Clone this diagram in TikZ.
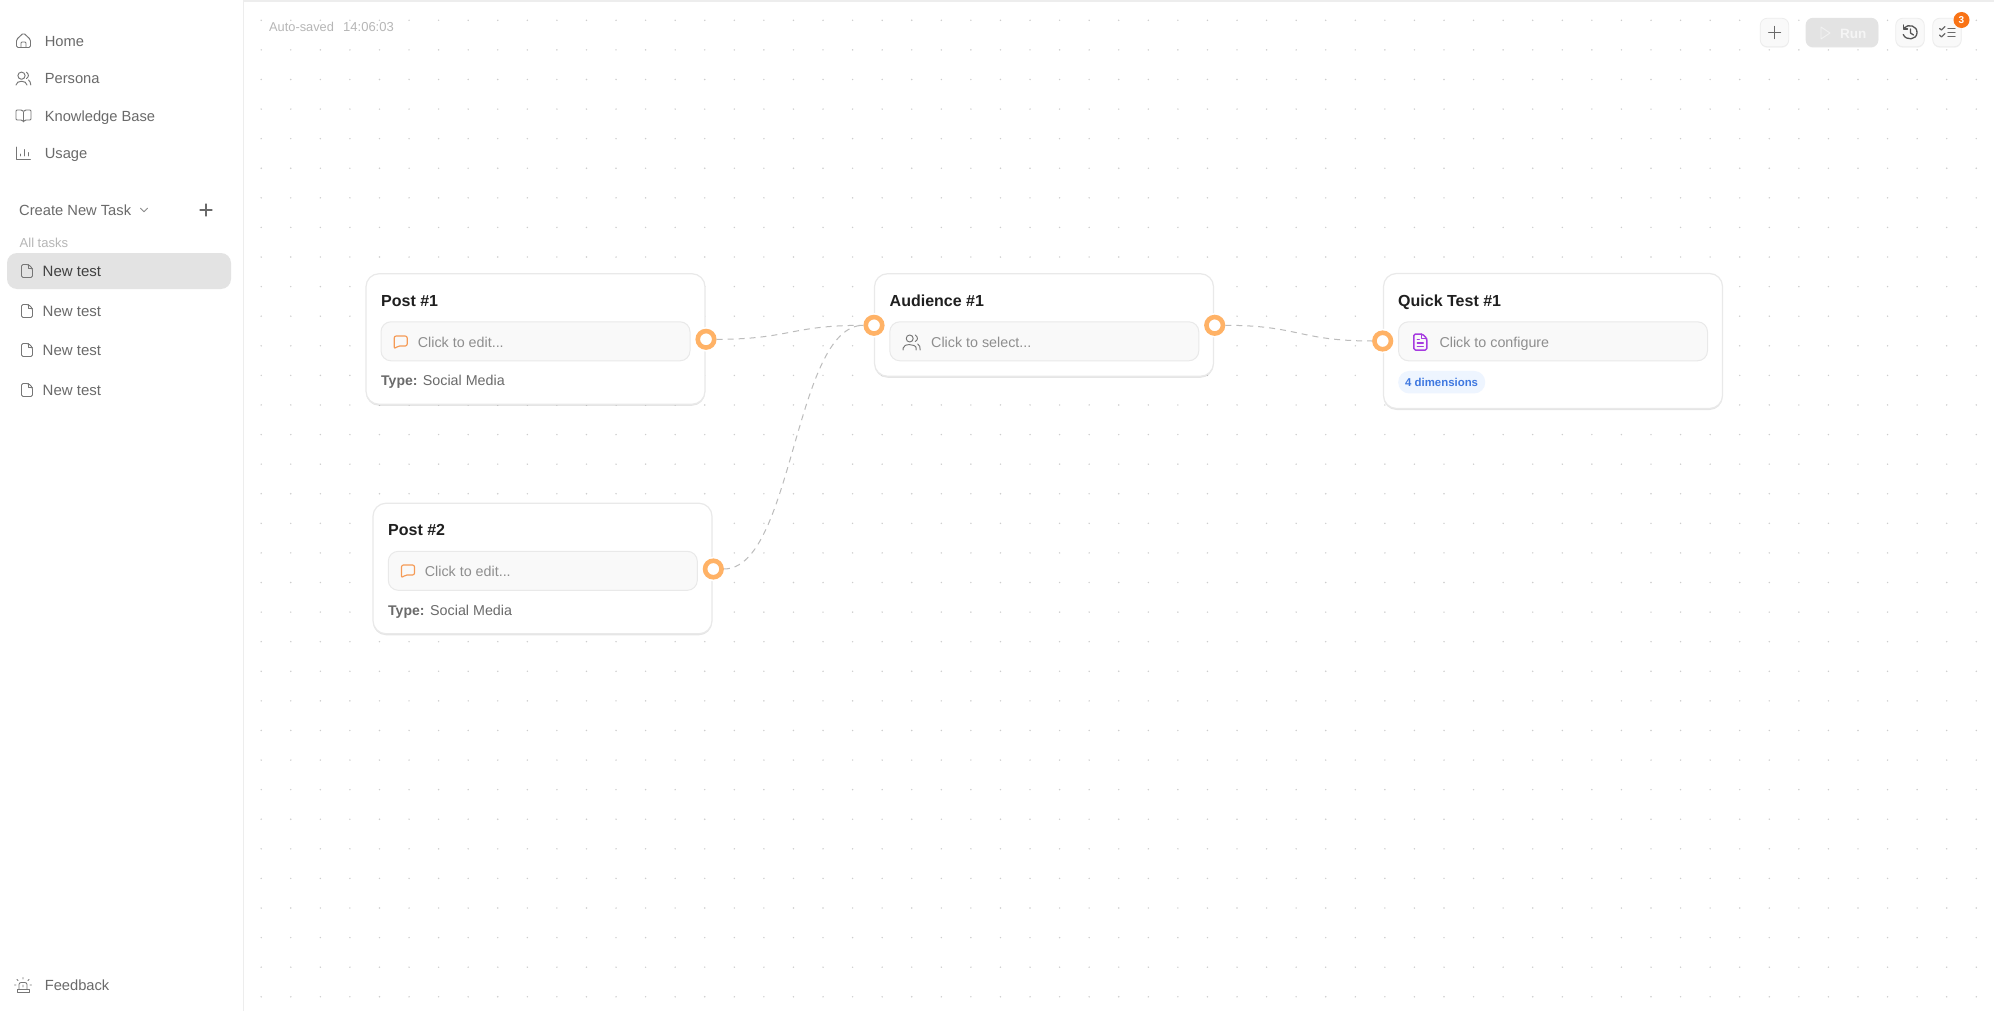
\documentclass[tikz,border=0pt]{standalone}
\usepackage{fontspec}
\setmainfont{Liberation Sans}
\usetikzlibrary{shadows}

\definecolor{gridgray}{HTML}{CDCDCD}
\definecolor{linegray}{HTML}{EDEDED}
\definecolor{wiregray}{HTML}{BCBCBC}
\definecolor{cardline}{HTML}{E9E9E9}
\definecolor{fieldfill}{HTML}{F9F9F9}
\definecolor{selgray}{HTML}{E3E3E3}
\definecolor{textgray}{HTML}{6A6A6A}
\definecolor{icongray}{HTML}{767676}
\definecolor{hintgray}{HTML}{8E8E8E}
\definecolor{palegray}{HTML}{B6B6B6}
\definecolor{darktext}{HTML}{1F1F1F}
\definecolor{portorange}{HTML}{FFB266}
\definecolor{chatorange}{HTML}{F59A55}
\definecolor{badgeorange}{HTML}{F97316}
\definecolor{docpurple}{HTML}{A63BE0}
\definecolor{pillblue}{HTML}{EEF5FF}
\definecolor{pilltext}{HTML}{3F78E0}

\tikzset{
  txt/.style={anchor=west,inner sep=0pt,text height=10.5pt,text depth=0pt},
  side/.style={txt,text=textgray,font=\fontsize{14.7}{17}\selectfont},
  title/.style={txt,text=darktext,text height=11.5pt,font=\fontsize{16}{19}\bfseries\selectfont},
  hint/.style={txt,text=hintgray,font=\fontsize{14.3}{17}\selectfont},
  info/.style={txt,text=textgray,font=\fontsize{14.3}{17}\selectfont},
  card/.style={draw=cardline,line width=1.2pt,fill=white,rounded corners=13pt,
    drop shadow={shadow xshift=0pt,shadow yshift=-1.5pt,opacity=.10,fill=black}},
  field/.style={draw=cardline,line width=1pt,fill=fieldfill,rounded corners=10pt,
    minimum height=39pt,inner sep=0pt},
  port/.style={circle,draw=portorange,line width=4.6pt,fill=white,minimum size=16.5pt,inner sep=0pt,
    preaction={draw=white,line width=8pt}},
  wire/.style={draw=wiregray,line width=1pt,dash pattern=on 6pt off 5pt},
  toolbtn/.style={draw=linegray,line width=.8pt,fill=fieldfill,rounded corners=7pt,
    minimum width=28.5pt,minimum height=28.5pt,inner sep=0pt,
    drop shadow={shadow xshift=0pt,shadow yshift=-1pt,opacity=.05,fill=black}},
  ico/.style={draw=icongray,line width=.95pt,line join=round,line cap=round,fill=none},
  homeicon/.pic={
    \draw[ico,rounded corners=1.5pt] (-7,-1) -- (0,-7.5) -- (7,-1) -- (7,7) -- (-7,7) -- cycle;
    \draw[ico,rounded corners=1pt] (-2.5,7) -- (-2.5,1.5) -- (2.5,1.5) -- (2.5,7);},
  personaicon/.pic={
    \draw[ico] (-2,-2.8) circle (3.6);
    \draw[ico] (-7.5,6.5) .. controls (-7,1.5) and (3,1.5) .. (3.5,6.5);
    \draw[ico] (3,-6.2) .. controls (5.5,-4.5) and (5.5,-1.5) .. (3,0);
    \draw[ico] (5,1.5) .. controls (6.5,2.5) and (7,4) .. (7.3,6.5);},
  bookicon/.pic={
    \draw[ico,rounded corners=1pt] (0,-4) -- (-1.5,-6) -- (-7.5,-6) -- (-7.5,4) -- (-1.5,4) -- (0,6) -- (1.5,4) -- (7.5,4) -- (7.5,-6) -- (1.5,-6) -- cycle;
    \draw[ico] (0,-4) -- (0,6);},
  usageicon/.pic={
    \draw[ico] (-7,-6.5) -- (-7,6) -- (7,6);
    \draw[ico] (-3,2.5) -- (-3,0.5) (1,2.5) -- (1,-4) (5,2.5) -- (5,-1);},
  chevicon/.pic={\draw[ico,draw=icongray!85] (-3.5,-1.7) -- (0,1.7) -- (3.5,-1.7);},
  plusicon/.pic={\draw[ico,draw=#1,line width=1.05pt] (-6,0) -- (6,0) (0,-6) -- (0,6);},
  docicon/.pic={
    \draw[ico,rounded corners=1.5pt] (-5.5,-6.5) -- (1.5,-6.5) -- (5.5,-2.5) -- (5.5,6.5) -- (-5.5,6.5) -- cycle;
    \draw[ico] (1.5,-6.5) -- (1.5,-2.5) -- (5.5,-2.5);},
  chaticon/.pic={
    \draw[ico,draw=chatorange,line width=1.15pt,rounded corners=2pt] (-6.5,-6) -- (6.5,-6) -- (6.5,4) -- (-3,4) -- (-6.5,7) -- cycle;},
  peopleicon/.pic={
    \draw[ico] (-2,-3.5) circle (3.5);
    \draw[ico] (-8.5,8) -- (-8.5,6) .. controls (-8.5,1.5) and (4,1.5) .. (4.5,6) -- (4.5,8);
    \draw[ico] (3.5,-7) .. controls (6.5,-5) and (6.5,-2) .. (3.5,-0.5);
    \draw[ico] (6,2) .. controls (8,3) and (8.5,5) .. (8.5,8);},
  testicon/.pic={
    \draw[ico,draw=docpurple,line width=1.5pt,rounded corners=1.5pt] (-6.5,-8) -- (2,-8) -- (6.5,-3.5) -- (6.5,8) -- (-6.5,8) -- cycle;
    \draw[ico,draw=docpurple,line width=1.3pt] (1.5,-8) -- (1.5,-3.5) -- (6.5,-3.5);
    \draw[ico,draw=docpurple,line width=1.3pt] (-3,-2.5) -- (-1,-2.5) (-3,1) -- (3,1) (-3,4.5) -- (3,4.5);},
  playicon/.pic={\draw[ico,draw=white!95!black,line width=.9pt] (-4,-6) -- (5,0) -- (-4,6) -- cycle;},
  historyicon/.pic={
    \draw[ico,draw=textgray!80!black,line width=1.3pt] (-6,-4.5) .. controls (-2,-9) and (7.5,-7) .. (7,0.5) .. controls (6.5,7.5) and (-4,8.5) .. (-6.8,2);
    \draw[ico,draw=textgray!80!black,line width=1.3pt] (-6.5,-7.5) -- (-6.5,-3.5) -- (-2.5,-3.5);
    \draw[ico,draw=textgray!80!black,line width=1.3pt] (0.5,-3.5) -- (0.5,0.5) -- (3.5,2.5);},
  checkicon/.pic={
    \draw[ico,draw=textgray,line width=1.3pt] (1,-4) -- (8,-4) (1,0) -- (8,0) (1,4) -- (8,4);
    \draw[ico,draw=textgray,line width=1.3pt] (-7.5,-4) -- (-5.5,-2.5) -- (-2,-6) (-7.5,2.5) -- (-5.5,4.5) -- (-2,1);},
  alarmicon/.pic={
    \draw[ico,line width=.85pt,rounded corners=2pt] (-4,4) -- (-4,-2.5) -- (4,-2.5) -- (4,4);
    \draw[ico,line width=.85pt] (-6,7) -- (6,7) -- (6,4) -- (-6,4) -- cycle;
    \draw[ico,line width=.85pt] (0,0) -- (0,2) (0,-7.5) -- (0,-6) (-6,-5.5) -- (-5,-4.5) (6,-5.5) -- (5,-4.5) (-8.5,0) -- (-7,0) (8.5,0) -- (7,0);},
}

\begin{document}
\begin{tikzpicture}[x=1pt,y=-1pt]

  \useasboundingbox (0,0) rectangle (1994,1011);
  \fill[white] (0,0) rectangle (1994,1011);

  % dotted canvas
  \foreach \i in {0,...,58}
    \foreach \j in {0,...,33}
      \fill[gridgray] ({261.2+29.57*\i},{20.3+29.59*\j}) circle (0.8);

  \draw[linegray,line width=1.4pt] (243.5,0) -- (243.5,1011);
  \draw[linegray,line width=1.4pt] (243.5,1) -- (1994,1);

  % sidebar
  \node[side] (home)      at (44.6,41)   {Home};
  \node[side] (persona)   at (44.6,78.5) {Persona};
  \node[side] (knowledge) at (44.6,116)  {Knowledge Base};
  \node[side] (usage)     at (44.6,153.5){Usage};
  \node[side] (feedback)  at (44.6,985)  {Feedback};
  \pic at (23.5,40.5) {homeicon};
  \pic at (23.5,78.5) {personaicon};
  \pic at (23.5,116)  {bookicon};
  \pic at (23.5,153.5){usageicon};
  \pic at (23,985)    {alarmicon};

  \node[side] (create) at (19,210) {Create New Task};
  \pic at (144,210) {chevicon};
  \pic at (206,210) {plusicon=textgray};
  \node[txt,text=palegray,font=\fontsize{13}{15}\selectfont] (alltasks) at (19.5,242.2) {All tasks};

  \node[fill=selgray,rounded corners=10pt,minimum width=224pt,minimum height=36pt,inner sep=0pt] (selected) at (119,271) {};
  \node[side,text=darktext!85,font=\fontsize{15}{17}\selectfont] (task1) at (42.5,271) {New test};
  \node[side,font=\fontsize{15}{17}\selectfont] (task2) at (42.5,311) {New test};
  \node[side,font=\fontsize{15}{17}\selectfont] (task3) at (42.5,350) {New test};
  \node[side,font=\fontsize{15}{17}\selectfont] (task4) at (42.5,390) {New test};
  \foreach \y in {271,311,350,390}
    \pic at (27,\y) {docicon};

  % top bar
  \node[txt,text=palegray,font=\fontsize{12.8}{15}\selectfont] (saved) at (269,26) {Auto-saved};
  \node[txt,text=palegray,font=\fontsize{13}{15}\selectfont] (time) at (343,26) {14:06:03};

  \node[toolbtn] (addbtn) at (1774.5,32.5) {};
  \node[toolbtn,fill=selgray,draw=selgray,minimum width=72pt] (runbtn) at (1842,32.5) {};
  \node[toolbtn] (histbtn) at (1910,32.5) {};
  \node[toolbtn] (listbtn) at (1947,32.5) {};
  \pic at (1774.5,32.5) {plusicon=textgray};
  \pic at (1825,33) {playicon};
  \node[txt,text=white!96!black,font=\fontsize{13.5}{15}\bfseries\selectfont] (run) at (1840,33) {Run};
  \pic at (1910,32.5) {historyicon};
  \pic at (1947,32.5) {checkicon};
  \node[circle,fill=badgeorange,text=white,inner sep=0pt,minimum size=16pt,font=\fontsize{10}{12}\bfseries\selectfont] (badge) at (1961.5,20) {3};

  % cards
  \node[card,minimum width=339pt,minimum height=130.5pt] (post1)    at (535.5,339)  {};
  \node[card,minimum width=339pt,minimum height=130.5pt] (post2)    at (542.5,568.5){};
  \node[card,minimum width=339pt,minimum height=102.5pt] (audience) at (1044,325)   {};
  \node[card,minimum width=339pt,minimum height=135pt]   (quick)    at (1553,341)   {};

  \node[title] (post1title) at (381,300.7)  {Post \#1};
  \node[title] (post2title) at (388,530)    {Post \#2};
  \node[title] (audtitle)   at (889.5,300.7){Audience \#1};
  \node[title] (quicktitle) at (1398,300.7) {Quick Test \#1};

  \node[field,minimum width=309pt] (post1field) at (535.5,341.3) {};
  \node[field,minimum width=309pt] (post2field) at (542.8,570.8) {};
  \node[field,minimum width=309pt] (audfield)   at (1044.3,341.3){};
  \node[field,minimum width=309pt] (quickfield) at (1553,341.3)  {};

  \pic at (400.7,342) {chaticon};
  \pic at (408,571)   {chaticon};
  \pic at (911.7,342) {peopleicon};
  \pic at (1420.3,342){testicon};

  \node[hint] (post1hint) at (417.7,342) {Click to edit...};
  \node[hint] (post2hint) at (424.7,571) {Click to edit...};
  \node[hint] (audhint)   at (931,342)   {Click to select...};
  \node[hint] (quickhint) at (1439.3,342){Click to configure};

  \node[info,font=\fontsize{14}{17}\bfseries\selectfont] (post1type) at (381,380.7) {Type:};
  \node[info] (post1kind) at (422.7,380.7) {Social Media};
  \node[info,font=\fontsize{14}{17}\bfseries\selectfont] (post2type) at (388,610) {Type:};
  \node[info] (post2kind) at (430,610) {Social Media};

  \node[fill=pillblue,rounded corners=11pt,minimum width=87pt,minimum height=22.5pt,inner sep=0pt] (pill) at (1441.7,382.2) {};
  \node[txt,text=pilltext,text height=8.5pt,font=\fontsize{11.4}{13}\bfseries\selectfont] (dims) at (1405,382.2) {4 dimensions};

  % ports and wires
  \node[port] (post1out) at (706,339.3)   {};
  \node[port] (post2out) at (713.3,569)   {};
  \node[port] (audin)    at (874,325.3)   {};
  \node[port] (audout)   at (1214.7,325.3){};
  \node[port] (quickin)  at (1382.7,341)  {};

  \draw[wire] (post1out) .. controls +(84,0) and +(-84,0) .. (audin);
  \draw[wire] (post2out) .. controls +(80,0) and +(-80,0) .. (audin);
  \draw[wire] (audout)   .. controls +(84,0) and +(-84,0) .. (quickin);

\end{tikzpicture}
\end{document}
